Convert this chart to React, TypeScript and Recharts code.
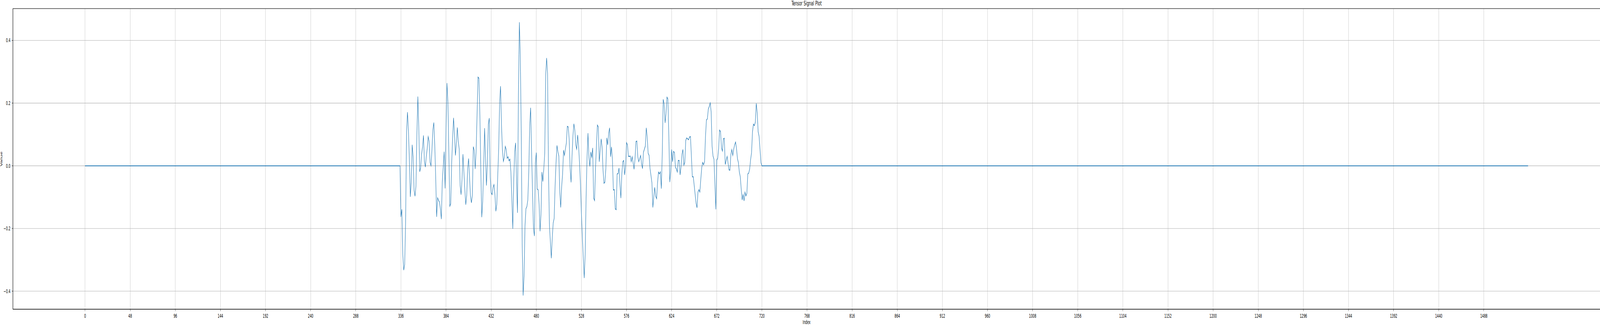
import React from 'react';
import { LineChart, Line, XAxis, YAxis, CartesianGrid, ReferenceArea } from 'recharts';

const WIDTH = 7812;
const HEIGHT = 835;

const title = 'Tensor Signal Plot';
const xLabel = 'Index';
const yLabel = 'Value';

const xTicks = [0, 48, 96, 144, 192, 240, 288, 336, 384, 432, 480, 528, 576, 624, 672, 720, 768, 816, 864, 912, 960, 1008, 1056, 1104, 1152, 1200, 1248, 1296, 1344, 1392, 1440, 1488];
const yTicks = [-0.4, -0.2, 0, 0.2, 0.4];

// flat (zero) stretches: first and last index of each
const leadZeroIndices = [0, 335];
const tailZeroIndices = [720, 1535];

// active part of the signal, starting at index 336
const signalStart = 336;
const signalValues = [
  -0.163, -0.139, -0.283, -0.333, -0.315, -0.180, 0.109, 0.171, 0.112, 0.020,
  -0.099, -0.052, 0.067, 0.029, -0.078, -0.097, -0.065, 0.100, 0.221, 0.123,
  -0.019, -0.007, 0.037, 0.059, 0.097, 0.014, -0.004, 0.030, 0.056, 0.093,
  0.078, 0.011, 0.000, 0.050, 0.115, 0.138, 0.066, -0.037, -0.163, -0.102,
  -0.110, -0.116, -0.137, -0.170, -0.052, -0.003, 0.045, -0.072, 0.123, 0.264,
  0.204, 0.037, -0.129, -0.121, 0.009, 0.089, 0.153, 0.100, 0.033, 0.072,
  0.122, 0.077, 0.054, -0.063, -0.092, -0.043, 0.037, -0.020, -0.077, -0.124,
  -0.094, -0.009, 0.023, -0.037, -0.097, -0.118, -0.094, 0.061, 0.049, -0.010,
  0.046, 0.163, 0.283, 0.279, 0.163, -0.014, -0.164, -0.114, -0.009, 0.120,
  0.026, -0.063, 0.009, 0.133, 0.152, -0.036, -0.086, -0.092, -0.069, -0.060,
  -0.092, -0.145, -0.123, -0.031, 0.054, 0.203, 0.254, 0.129, 0.050, 0.014,
  0.027, 0.062, 0.052, 0.024, 0.029, 0.016, 0.021, -0.020, -0.106, -0.201,
  -0.049, 0.046, 0.073, -0.049, -0.150, 0.226, 0.458, 0.352, 0.112, -0.249,
  -0.414, -0.352, -0.192, -0.137, -0.130, -0.109, -0.020, 0.129, 0.185, 0.043,
  -0.083, -0.199, -0.224, 0.009, 0.042, -0.074, -0.077, -0.123, -0.209, -0.155,
  -0.020, -0.050, -0.009, 0.040, 0.290, 0.344, 0.295, -0.020, -0.192, -0.243,
  -0.295, -0.229, -0.182, -0.168, -0.066, 0.009, 0.065, 0.045, 0.031, -0.084,
  -0.133, -0.066, -0.026, 0.050, 0.033, 0.054, 0.073, 0.126, 0.124, 0.084,
  -0.009, -0.053, 0.031, 0.096, 0.134, 0.114, 0.067, 0.053, 0.098, 0.063,
  0.009, -0.060, -0.152, -0.226, -0.295, -0.358, -0.283, -0.100, 0.026, 0.104,
  0.026, -0.002, 0.044, 0.027, 0.057, -0.103, -0.111, -0.009, 0.066, 0.130,
  0.124, 0.013, 0.049, 0.086, 0.060, -0.014, -0.056, -0.052, -0.009, 0.089,
  0.067, 0.104, 0.121, 0.029, 0.060, 0.020, -0.077, -0.076, -0.137, -0.140,
  -0.026, -0.025, -0.007, -0.060, -0.103, -0.026, 0.013, 0.017, -0.029, -0.002,
  0.074, 0.067, 0.030, 0.030, 0.031, 0.013, 0.029, 0.010, -0.011, 0.021,
  0.077, 0.079, 0.029, 0.013, 0.023, 0.033, 0.006, -0.009, 0.043, 0.053,
  0.063, 0.121, 0.092, 0.040, 0.033, -0.009, -0.031, -0.054, -0.133, -0.100,
  -0.069, -0.097, -0.105, -0.054, -0.020, -0.026, -0.019, -0.073, 0.037, 0.212,
  0.197, 0.137, 0.166, 0.219, 0.213, 0.094, -0.052, -0.017, 0.052, 0.013,
  0.046, 0.042, -0.004, -0.010, -0.020, 0.017, 0.017, -0.029, -0.003, 0.037,
  0.052, 0.002, 0.011, 0.081, 0.089, 0.086, 0.083, 0.092, 0.093, 0.031,
  -0.035, -0.035, -0.063, -0.092, -0.120, -0.134, -0.084, -0.076, -0.084, -0.043,
  -0.006, 0.011, 0.003, 0.013, 0.094, 0.146, 0.150, 0.181, 0.189, 0.201,
  0.173, 0.063, 0.031, 0.021, -0.060, -0.139, 0.018, 0.024, 0.056, 0.114,
  0.109, 0.057, 0.047, 0.086, 0.088, 0.004, 0.017, 0.030, 0.009, -0.013,
  -0.014, 0.036, 0.052, 0.033, 0.053, 0.067, 0.076, 0.054, 0.023, 0.010,
  -0.020, -0.035, -0.074, -0.109, -0.092, -0.112, -0.084, -0.096, -0.088, -0.026,
  -0.023, -0.010, 0.020, 0.042, 0.109, 0.133, 0.128, 0.139, 0.199, 0.170,
  0.109, 0.094, 0.052, 0.010,
];

const X_DOMAIN: [number, number] = [-76.75, 1611.75];
const Y_DOMAIN: [number, number] = [-0.4576, 0.5016];

const data = [
  ...leadZeroIndices.map((i) => ({ i, v: 0 })),
  ...signalValues.map((v, k) => ({ i: signalStart + k, v })),
  ...tailZeroIndices.map((i) => ({ i, v: 0 })),
];

const fmtY = (v: number) => (v < 0 ? '\u2212' : '') + Math.abs(v).toFixed(1);

const FONT = '"DejaVu Sans", sans-serif';
const tickStyle = { fontSize: 13.9, fill: '#000', fontFamily: FONT };

export default function App() {
  // The browser window may be narrower than the 7812px figure; squeeze the
  // whole figure horizontally so that it keeps the reference's proportions.
  const viewW = typeof window !== 'undefined' ? window.innerWidth : WIDTH;
  const fit = Math.min(1, viewW / WIDTH);
  return (
    <div style={{ position: 'absolute', left: 0, top: 0, width: Math.ceil(WIDTH * fit), height: HEIGHT, overflow: 'hidden', background: '#fff' }}>
      <div
        style={{
          position: 'absolute',
          left: 0,
          top: 0,
          width: WIDTH,
          height: HEIGHT,
          background: '#fff',
          fontFamily: FONT,
          transform: `scaleX(${fit})`,
          transformOrigin: '0 0',
        }}
      >
        <LineChart width={WIDTH} height={HEIGHT} data={data} margin={{ top: 22, right: -1, bottom: 0, left: 0 }}>
          <CartesianGrid stroke="#b0b0b0" strokeWidth={1.1} />
          <XAxis
            dataKey="i"
            type="number"
            domain={X_DOMAIN}
            ticks={xTicks}
            allowDataOverflow
            height={43}
            tickSize={5}
            tickMargin={7}
            tick={tickStyle}
            axisLine={{ stroke: '#000', strokeWidth: 1.1 }}
            tickLine={{ stroke: '#000', strokeWidth: 1.1 }}
            interval={0}
          />
          <YAxis
            type="number"
            domain={Y_DOMAIN}
            ticks={yTicks}
            allowDataOverflow
            width={63}
            tickSize={5}
            tickMargin={7}
            tick={tickStyle}
            tickFormatter={fmtY}
            axisLine={{ stroke: '#000', strokeWidth: 1.1 }}
            tickLine={{ stroke: '#000', strokeWidth: 1.1 }}
            interval={0}
          />
          <ReferenceArea
            x1={X_DOMAIN[0]}
            x2={X_DOMAIN[1]}
            y1={Y_DOMAIN[0]}
            y2={Y_DOMAIN[1]}
            fill="none"
            fillOpacity={0}
            stroke="#000"
            strokeWidth={1.1}
            ifOverflow="visible"
          />
          <Line
            type="linear"
            dataKey="v"
            stroke="#1f77b4"
            strokeWidth={2}
            dot={false}
            activeDot={false}
            isAnimationActive={false}
          />
        </LineChart>
        <svg
          width={WIDTH}
          height={HEIGHT}
          style={{ position: 'absolute', left: 0, top: 0, pointerEvents: 'none' }}
        >
          <text x={3938} y={14} textAnchor="middle" fontSize={16.7} fontFamily={FONT} fill="#000">
            {title}
          </text>
          <text x={3938} y={830} textAnchor="middle" fontSize={13.9} fontFamily={FONT} fill="#000">
            {xLabel}
          </text>
          <text
            transform="translate(11, 407) rotate(-90)"
            textAnchor="middle"
            fontSize={13.9}
            fontFamily={FONT}
            fill="#000"
          >
            {yLabel}
          </text>
        </svg>
      </div>
    </div>
  );
}
